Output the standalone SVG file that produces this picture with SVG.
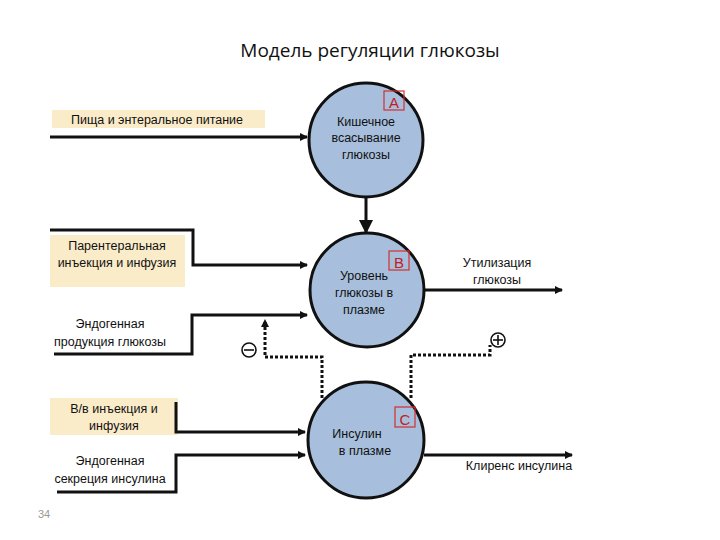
<svg xmlns="http://www.w3.org/2000/svg" width="720" height="540" viewBox="0 0 720 540">
<style>
text{font-family:"Liberation Sans",Arial,sans-serif;font-size:12.5px;fill:#111}
.c{text-anchor:middle}
.node{fill:#a7bfdc;stroke:#111;stroke-width:3}
.box{fill:#fbecc9}
.tag{fill:none;stroke:#d03030;stroke-width:1.2}
.tagt{font-size:15px;fill:#c02020;text-anchor:middle}
.ln{fill:none;stroke:#111;stroke-width:3}
.dt{fill:none;stroke:#111;stroke-width:3;stroke-dasharray:3 2}
</style>
<defs>
<marker id="ar" markerWidth="8" markerHeight="8" refX="7" refY="4" orient="auto" markerUnits="userSpaceOnUse"><path d="M0,0L8,4L0,8z" fill="#111"/></marker>
<marker id="ar2" markerWidth="14" markerHeight="14" refX="12" refY="7" orient="auto" markerUnits="userSpaceOnUse"><path d="M0,0L14,7L0,14z" fill="#111"/></marker>
</defs>
<rect width="720" height="540" fill="#fff"/>
<text x="370" y="57" class="c" style="font-size:19px;font-family:'Open Sans',sans-serif">Модель регуляции глюкозы</text>
<g id="labels">
<rect class="box" x="52" y="110" width="213" height="18"/>
<text x="157" y="124" class="c">Пища и энтеральное питание</text>
<rect class="box" x="50" y="235" width="135" height="52"/>
<text x="117" y="250" class="c">Парентеральная</text>
<text x="117" y="267" class="c">инъекция и инфузия</text>
<text x="110" y="328" class="c">Эндогенная</text>
<text x="110" y="346" class="c">продукция глюкозы</text>
<rect class="box" x="50" y="398" width="128" height="37"/>
<text x="114" y="413" class="c">В/в инъекция и</text>
<text x="114" y="430" class="c">инфузия</text>
<text x="110" y="465" class="c">Эндогенная</text>
<text x="110" y="483" class="c">секреция инсулина</text>
<text x="497" y="267" class="c">Утилизация</text>
<text x="497" y="284" class="c">глюкозы</text>
<text x="519" y="470" class="c">Клиренс инсулина</text>
<text x="38" y="518" style="font-size:11px;fill:#999">34</text>
</g>
<g id="connectors">
<line class="ln" x1="50" y1="137" x2="307" y2="137" marker-end="url(#ar)"/>
<line class="ln" x1="366" y1="198" x2="366" y2="232" stroke-width="5" marker-end="url(#ar2)"/>
<polyline class="ln" points="50,230 193,230 193,265 307,265" marker-end="url(#ar)"/>
<polyline class="ln" points="54,354 192,354 192,315 307,315" marker-end="url(#ar)"/>
<polyline class="dt" points="322,398 322,357 265,357 265,320" marker-end="url(#ar)"/>
<polyline class="dt" points="411,398 411,355 490,355 490,345"/>
<line class="ln" x1="424" y1="290" x2="562" y2="290" marker-end="url(#ar)"/>
<polyline class="ln" points="176,402 176,432 305,432" marker-end="url(#ar)"/>
<polyline class="ln" points="57,492 176,492 176,455 305,455" marker-end="url(#ar)"/>
<line class="ln" x1="424" y1="455" x2="572" y2="455" marker-end="url(#ar)"/>
<g fill="none" stroke="#111" stroke-width="1.6">
<circle cx="249" cy="350" r="7"/><line x1="244" y1="350" x2="254" y2="350"/>
<circle cx="498" cy="340" r="7"/><line x1="493" y1="340" x2="503" y2="340"/><line x1="498" y1="335" x2="498" y2="345"/>
</g>
</g>
<g id="nodeA">
<circle class="node" cx="366" cy="140" r="57"/>
<text x="366" y="126" class="c">Кишечное</text>
<text x="366" y="142" class="c">всасывание</text>
<text x="366" y="159" class="c">глюкозы</text>
<rect class="tag" x="384" y="91" width="20" height="19"/>
<text x="394" y="108" class="tagt">А</text>
</g>
<g id="nodeB">
<circle class="node" cx="367" cy="290" r="57"/>
<text x="364" y="280" class="c">Уровень</text>
<text x="364" y="297" class="c">глюкозы в</text>
<text x="364" y="314" class="c">плазме</text>
<rect class="tag" x="389" y="251" width="20" height="19"/>
<text x="399" y="268" class="tagt">В</text>
</g>
<g id="nodeC">
<circle class="node" cx="366" cy="440" r="58"/>
<text x="357" y="438" class="c">Инсулин</text>
<text x="365" y="455" class="c">в плазме</text>
<rect class="tag" x="395" y="407" width="20" height="20"/>
<text x="405" y="425" class="tagt">С</text>
</g>
</svg>
